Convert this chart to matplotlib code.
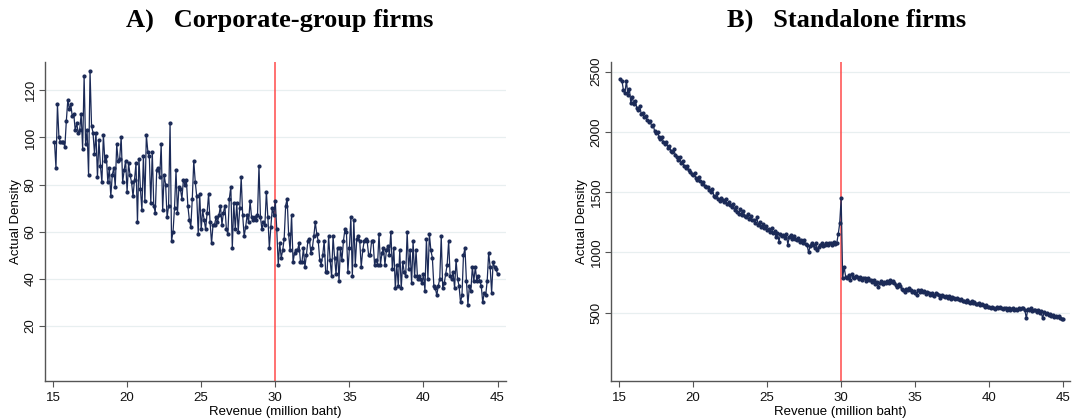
import numpy as np
import matplotlib
matplotlib.use("Agg")
import matplotlib.pyplot as plt

# ---------------- data ----------------
x_start = 15.1
x_step = 0.1

# Panel A: corporate-group firms (actual density per 0.1 bin, 15.1 ... 45.0)
density_group = [
    98, 87, 114, 100, 98, 98, 98, 96, 107, 116, 112, 114, 109, 110, 103, 106, 102, 103, 110, 95,
    126, 97, 103, 84, 128, 105, 102, 93, 102, 83, 99, 88, 81, 101, 90, 92, 81, 87, 75, 84,
    87, 79, 97, 90, 91, 100, 81, 86, 90, 77, 89, 84, 81, 75, 82, 89, 64, 91, 78,
    69, 92, 73, 101, 94, 92, 72, 94, 71, 68, 86, 87, 83, 97, 69, 84, 80, 66, 71, 106,
    56, 60, 70, 86, 68, 79, 78, 74, 82, 80, 82, 71, 65, 62, 74, 90, 81, 75, 59, 76,
    61, 69, 65, 61, 68, 76, 64, 55, 63, 63, 66, 64, 67, 71, 63, 68,
    71, 61, 59, 74, 79, 53, 72, 61, 72, 60, 70, 83, 67, 58, 62, 67, 64, 73, 66, 65,
    66, 65, 67, 88, 66, 61, 64, 63, 77, 66, 53, 62, 70, 67, 73, 61, 46, 55, 49, 52,
    57, 71, 74, 59, 52, 67, 47, 51, 52, 52, 55,
    47, 47, 53, 45, 50, 56, 57, 51, 53, 58, 64, 59, 56, 48, 46, 50, 56, 43, 43, 58,
    48, 41, 58, 49, 42, 53, 39, 53, 48, 56, 61, 60, 43, 53, 66, 41, 65, 46, 57, 58,
    56, 45, 52, 56, 57, 56, 50, 50, 56, 56, 46,
    48, 46, 59, 46, 51, 53, 46, 52, 54, 50, 60, 44, 53, 36, 46, 37, 52, 36, 47, 43,
    41, 60, 44, 52, 38, 56, 41, 52, 40, 41, 40, 38, 42,
    35, 57, 40, 59, 52, 49, 37, 36, 33, 37, 40, 58, 36, 38, 42, 46, 56, 41, 40, 43,
    36, 48, 40, 37, 30, 33, 50, 53, 39, 29, 37, 35, 45, 39, 45, 39, 41, 39, 37, 30,
    34, 33, 39, 51, 45, 34, 47, 45, 44, 42,
]

# Panel B: standalone firms
density_standalone = [
    2437, 2425, 2345, 2322, 2425, 2305, 2355, 2240, 2290, 2230,
    2260, 2200, 2185, 2215, 2150, 2160, 2120, 2130, 2100, 2085,
    2090, 2050, 2060, 2010, 1990, 2000, 1960, 1940, 1955, 1915,
    1900, 1920, 1870, 1880, 1845, 1830, 1855, 1810, 1790, 1770,
    1790, 1740, 1760, 1715, 1700, 1720, 1680, 1665, 1650, 1640,
    1655, 1615, 1600, 1625, 1590, 1570, 1585, 1555, 1540, 1545,
    1520, 1500, 1530, 1470, 1460, 1490, 1445, 1430, 1450, 1435,
    1420, 1440, 1400, 1415, 1395, 1380, 1400, 1350, 1375, 1335,
    1320, 1360, 1310, 1340, 1300, 1290, 1320, 1280, 1300, 1265,
    1270, 1245, 1290, 1230, 1250, 1210, 1235, 1200, 1220, 1190,
    1195, 1170, 1200, 1160, 1175, 1130, 1160, 1090, 1150, 1140,
    1145, 1120, 1150, 1065, 1130, 1145, 1110, 1140, 1115, 1100,
    1120, 1090, 1105, 1080, 1100, 1070, 1060, 1000, 1050, 1080,
    1060, 1040, 1075, 1020, 1045, 1060, 1080, 1050, 1065, 1080,
    1060, 1075, 1080, 1065, 1085, 1070, 1075, 1150, 1240, 1450,
    790, 880, 800, 790, 810, 770, 825, 800, 790, 805,
    795, 780, 800, 770, 790, 784, 760, 785, 775, 770,
    757, 770, 740, 755, 715, 745, 760, 735, 757, 750,
    760, 745, 770, 755, 765, 743, 730, 715, 735, 720,
    700, 690, 674, 700, 685, 701, 690, 670, 680, 660,
    646, 690, 675, 687, 670, 680, 655, 670, 660, 650,
    665, 650, 640, 660, 654, 645, 620, 650, 640, 632,
    640, 625, 635, 615, 630, 618, 610, 625, 615, 604,
    610, 595, 600, 591, 605, 590, 580, 595, 577, 585,
    575, 570, 577, 565, 575, 560, 549, 565, 550, 545,
    535, 550, 540, 530, 544, 535, 550, 540, 530, 538,
    535, 525, 540, 520, 527, 535, 525, 530, 520, 535,
    530, 540, 535, 525, 452, 530, 520, 535, 515, 521,
    518, 508, 520, 500, 510, 452, 505, 490, 495, 480,
    485, 470, 480, 466, 475, 460, 470, 455, 450, 445,
]

cutoff = 30
x_ticks = [15, 20, 25, 30, 35, 40, 45]
y_ticks_group = [20, 40, 60, 80, 100, 120]
y_ticks_standalone = [500, 1000, 1500, 2000, 2500]
titles = ["A)   Corporate-group firms", "B)   Standalone firms"]
x_label = "Revenue (million baht)"
y_label = "Actual Density"

# ---------------- plotting ----------------
plt.rcParams['font.family'] = ['Liberation Sans', 'DejaVu Sans']

W, H = 1072, 418
fig = plt.figure(figsize=(W / 100, H / 100), dpi=100)

line_col = "#1b2a57"
grid_col = "#e8eff0"
spine_col = "#555555"

panels = [
    dict(y=density_group, rect=[45, 62, 506, 381], ylim=(-3.4, 132), xlim=(14.46, 45.57),
         yticks=y_ticks_group, title=titles[0], title_x=280),
    dict(y=density_standalone, rect=[611, 62, 1070, 381], ylim=(-67, 2580), xlim=(14.46, 45.45),
         yticks=y_ticks_standalone, title=titles[1], title_x=847),
]

for p in panels:
    l, t, r, b = p["rect"]
    ax = fig.add_axes([l / W, 1 - b / H, (r - l) / W, (b - t) / H])
    yv = np.asarray(p["y"], dtype=float)
    xv = x_start + x_step * np.arange(len(yv))
    for yt in p["yticks"]:
        ax.axhline(yt, color=grid_col, lw=0.9, zorder=0)
    ax.axvline(cutoff, color="#ff4a4a", lw=1.1, zorder=1)
    ax.plot(xv, yv, color=line_col, lw=0.9, marker="o", ms=2.0,
            markerfacecolor=line_col, markeredgecolor=line_col, zorder=3)
    ax.set_xlim(*p["xlim"])
    ax.set_ylim(*p["ylim"])
    ax.set_xticks(x_ticks)
    ax.set_yticks(p["yticks"])
    ax.set_yticklabels([str(v) for v in p["yticks"]], rotation=90, va="center")
    ax.tick_params(axis="both", labelsize=9.5, length=4, width=0.8, color=spine_col,
                   labelcolor="#111111")
    ax.tick_params(axis="x", pad=4)
    ax.tick_params(axis="y", pad=2)
    for s in ["top", "right"]:
        ax.spines[s].set_visible(False)
    for s in ["left", "bottom"]:
        ax.spines[s].set_color(spine_col)
        ax.spines[s].set_linewidth(1.0)
    ax.set_xlabel(x_label, fontsize=9.5, labelpad=1)
    ax.set_ylabel(y_label, fontsize=9.5, labelpad=2)
    fig.text(p["title_x"] / W, 1 - 20 / H, p["title"], ha="center", va="center",
             fontsize=19, fontweight="bold", family=["Liberation Serif", "DejaVu Serif"])

fig.savefig("out.png", dpi=100, facecolor="white")
